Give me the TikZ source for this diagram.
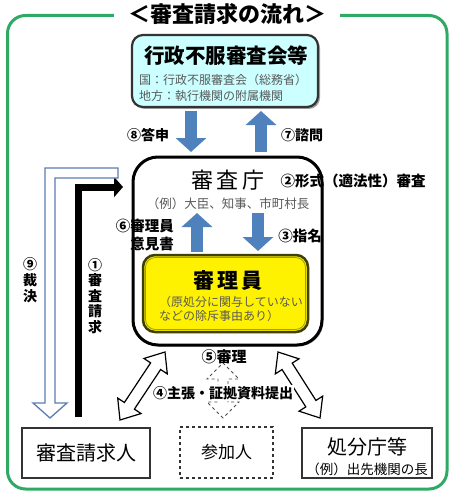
\documentclass[tikz,border=0pt]{standalone}
\usepackage{fontspec}
\setmainfont{Noto Sans CJK JP}
\usetikzlibrary{arrows.meta,calc,shadows}
\definecolor{framegreen}{HTML}{2EAA64}
\definecolor{arrowblue}{HTML}{4F81BD}
\definecolor{hollowblue}{HTML}{5B7DB1}
\definecolor{cyanfill}{HTML}{CCFFFF}
\definecolor{txtgray}{HTML}{595959}
\definecolor{olivedark}{HTML}{404000}
\definecolor{olivelight}{HTML}{A0A000}
\definecolor{boxgray}{HTML}{333333}
\newcommand{\fsz}[1]{\fontsize{#1}{#1}\selectfont}
\newcommand{\hdarrow}[6]{%
  \draw[#1] let \p1=($(#3)-(#2)$), \n1={atan2(\y1,\x1)} in
   (#2) -- ($(#2)+(\n1:#6)+({\n1+90}:#5)$) -- ($(#2)+(\n1:#6)+({\n1+90}:#4)$)
   -- ($(#3)+({\n1+180}:#6)+({\n1+90}:#4)$) -- ($(#3)+({\n1+180}:#6)+({\n1+90}:#5)$)
   -- (#3) -- ($(#3)+({\n1+180}:#6)+({\n1-90}:#5)$) -- ($(#3)+({\n1+180}:#6)+({\n1-90}:#4)$)
   -- ($(#2)+(\n1:#6)+({\n1-90}:#4)$) -- ($(#2)+(\n1:#6)+({\n1-90}:#5)$) -- cycle;}
\tikzset{
  lbl/.style={font=\bfseries\fsz{14}, text=black, inner sep=0pt},
  graytxt/.style={text=txtgray, inner sep=0pt},
  bluearrow/.style={draw=arrowblue, line width=12pt, -{Triangle[width=30pt,length=14pt]}},
  hollow/.style={draw=black, line width=1.2pt, fill=white, line join=miter},
  dashhollow/.style={draw=black!70, line width=0.9pt, dashed, line join=miter},
  bottombox/.style={draw=boxgray, line width=1.5pt, minimum height=50pt, inner sep=0pt, outer sep=0pt},
}
\begin{document}
\begin{tikzpicture}[x=1pt,y=-1pt]
\useasboundingbox (0,0) rectangle (455,500);
% frame
\draw[framegreen, line width=3pt, rounded corners=18pt] (7.5,15.5) rectangle (447,489);
\node[fill=white, inner xsep=14pt, inner ysep=0pt, font=\bfseries\fsz{22}] (title) at (227,14) {＜審査請求の流れ＞};
% council
\node[draw=boxgray, line width=2.2pt, fill=cyanfill, rounded corners=11pt, minimum width=186pt, minimum height=72pt, outer sep=0pt,
  drop shadow={shadow xshift=2pt, shadow yshift=-2pt, fill=black!45, opacity=0.8}] (council) at (225,71) {};
\node[font=\bfseries\fsz{20.5}, inner sep=0pt] (counciltitle) at (226,56) {行政不服審査会等};
\node[graytxt, font=\fsz{12}, anchor=west] (councilA) at (139,80) {国：行政不服審査会（総務省）};
\node[graytxt, font=\fsz{12}, anchor=west] (councilB) at (139,96) {地方：執行機関の附属機関};
% agency
\node[draw=black, line width=3pt, fill=white, rounded corners=25pt, minimum width=189pt, minimum height=188pt, outer sep=0pt,
  drop shadow={shadow xshift=1.5pt, shadow yshift=-1.5pt, fill=black!35, opacity=0.7}] (agency) at (227.5,251) {};
\node[font=\fsz{22}, inner sep=0pt] (agencytitle) at (228,180) {審\hspace{4pt}査\hspace{4pt}庁};
\node[graytxt, font=\fsz{12.5}] (agencyex) at (228,204) {（例）大臣、知事、市町村長};
% reviewer
\node[draw=olivedark, line width=2.5pt, fill=yellow, rounded corners=12pt, minimum width=165pt, minimum height=77pt, outer sep=0pt] (reviewer) at (225.5,293.5) {};
\draw[olivelight, line width=0.8pt, rounded corners=10pt] ($(reviewer.north west)+(2.5,2.5)$) rectangle ($(reviewer.south east)+(-2.5,-2.5)$);
\node[font=\bfseries\fsz{21}, inner sep=0pt] (reviewertitle) at (228,281) {審\hspace{3pt}理\hspace{3pt}員};
\node[graytxt, font=\fsz{12}, anchor=west, align=left] (reviewernote) at (159,309) {（原処分に関与していない\\[2pt]などの除斥事由あり）};
% bottom boxes
\node[bottombox, minimum width=128pt, font=\fsz{20}] (requester) at (86,453) {審査請求人};
\node[bottombox, draw=black!80, dashed, minimum width=93pt, minimum height=51pt, font=\fsz{17}] (participant) at (226.5,452.5) {参加人};
\node[bottombox, minimum width=130pt] (office) at (367,453) {};
\node[font=\fsz{20}, inner sep=0pt] (officetitle) at (367,447) {処分庁等};
\node[font=\fsz{13.5}, inner sep=0pt] (officeex) at (367,469) {（例）出先機関の長};
% blue arrows top
\draw[bluearrow] ($(council.south)+(-34,4)$) -- ($(council.south |- agency.north)+(-34,-5)$);
\draw[bluearrow] ($(council.south |- agency.north)+(36,-5)$) -- ($(council.south)+(36,4)$);
\node[lbl] (l8) at (148,135) {⑧答申};
\node[lbl] (l7) at (302,135) {⑦諮問};
\node[lbl, font=\bfseries\fsz{14.5}] (l2) at (353,181) {②形式（適法性）審査};
% inner arrows
\draw[bluearrow] ($(reviewer.north)+(-28.5,-3)$) -- ($(reviewer.north)+(-28.5,-42)$);
\draw[bluearrow] ($(reviewer.north)+(32.5,-42)$) -- ($(reviewer.north)+(32.5,-4)$);
\node[lbl, font=\bfseries\fsz{14.5}, align=right, anchor=east] (l6) at (174,235) {⑥審理員\\[3pt]意見書};
\node[lbl, font=\bfseries\fsz{14.5}] (l3) at (300,236) {③指名};
% left arrows
\coordinate (b1) at ($(requester.north)+(-8,-11)$);
\coordinate (b2) at ($(agency.west)+(-10,-64)$);
\draw[line width=7pt, -{Triangle[width=20pt,length=9pt]}, line join=miter] (b1) -- (b1 |- b2) -- (b2);
\coordinate (n9a) at ($(agency.west)+(-15,-83)$);
\coordinate (n9b) at ($(requester.north)+(-36,-10)$);
\draw[hollowblue, line width=1.3pt, fill=white, line join=miter]
  (n9a) -- ($(n9b |- n9a)+(-5,0)$) -- ($(n9b)+(-5,-15)$) -- ($(n9b)+(-17,-15)$) -- (n9b) -- ($(n9b)+(17,-15)$)
  -- ($(n9b)+(5,-15)$) -- ($(n9b |- n9a)+(5,10)$) -- ($(n9a)+(0,10)$) -- cycle;
\node[lbl, align=center, font=\bfseries\fsz{14}] (l9) at (30,280) {⑨\\[2pt]裁\\[2pt]決};
\node[lbl, align=center, font=\bfseries\fsz{14}] (l1) at (95,296) {①\\[1.5pt]審\\[1.5pt]査\\[1.5pt]請\\[1.5pt]求};
% bottom double arrows
\coordinate (dl1) at ($(requester.north)+(34,-8)$);
\coordinate (dl2) at ($(agency.south west)+(32,7)$);
\coordinate (dr1) at ($(office.north)+(-47,-10)$);
\coordinate (dr2) at ($(agency.south east)+(-44,7)$);
\hdarrow{hollow}{dl1}{dl2}{6pt}{14pt}{17pt}
\hdarrow{hollow}{dr1}{dr2}{6pt}{14pt}{17pt}
\coordinate (dp1) at ($(participant.north)+(-3.5,-9)$);
\coordinate (dp2) at ($(agency.south)+(-4.5,18)$);
\hdarrow{dashhollow}{dp1}{dp2}{5pt}{16pt}{16pt}
\node[lbl, fill=white, inner xsep=1pt, inner ysep=1pt, font=\bfseries\fsz{14}] (l4) at (223,393) {④主張・証拠資料提出};
\node[lbl, font=\bfseries\fsz{15}] (l5) at (224,357) {⑤審理};
\end{tikzpicture}
\end{document}
